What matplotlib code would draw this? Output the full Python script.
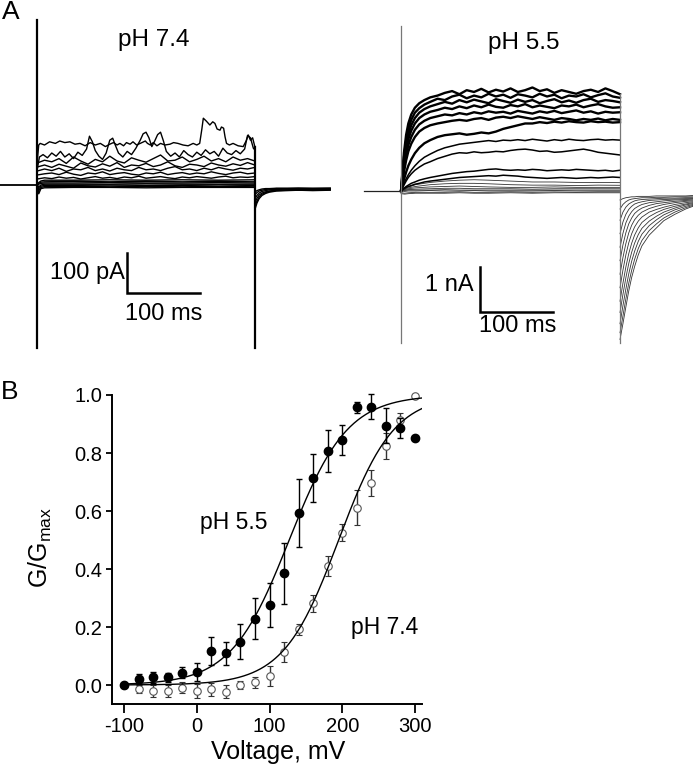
import numpy as np
import matplotlib
matplotlib.use("Agg")
import matplotlib.pyplot as plt

plt.rcParams["font.family"] = ["Liberation Sans", "DejaVu Sans"]
plt.rcParams["mathtext.fontset"] = "custom"
plt.rcParams["mathtext.rm"] = "Liberation Sans"
plt.rcParams["mathtext.it"] = "Liberation Sans:italic"
plt.rcParams["axes.unicode_minus"] = False

# ---------------- panel A, pH 7.4 (time in ms, current in pA) ----------------
p1_t = [0, 2, 4, 10, 17, 25, 31, 38, 45, 52, 59, 66, 73, 80, 87, 94, 100, 105, 110, 114,
        119, 123, 128, 132, 137, 142, 149, 152, 156, 160, 165, 170, 176, 183, 188, 194, 201,
        208, 215, 220, 224, 227, 229, 233, 238, 242, 245, 248, 252, 254, 257, 259, 261, 265,
        270, 277, 284, 288, 291, 294, 297, 300]
p1_i = [60, 100, 104, 100, 108, 104, 110, 106, 108, 102, 104, 98, 106, 100, 104, 96, 102, 106,
        100, 104, 98, 106, 102, 108, 100, 104, 110, 104, 100, 106, 98, 104, 100, 102, 106, 104,
        100, 98, 104, 100, 104, 140, 167, 160, 150, 158, 154, 140, 137, 145, 142, 120, 104, 100,
        104, 98, 96, 110, 125, 112, 118, 96]
p2_t = [0, 3, 8, 14, 20, 26, 32, 38, 44, 50, 56, 62, 68, 72, 76, 80, 85, 90, 95, 100, 104, 108,
        112, 118, 124, 130, 136, 142, 146, 150, 154, 158, 162, 166, 170, 174, 178, 184, 190, 196,
        202, 208, 214, 220, 226, 232, 238, 244, 250, 256, 262, 268, 274, 280, 286, 290, 294, 298, 300]
p2_i = [40, 70, 76, 68, 80, 72, 84, 70, 78, 66, 82, 74, 90, 122, 108, 86, 72, 64, 80, 112, 117, 98,
        80, 70, 84, 76, 92, 112, 128, 132, 118, 96, 110, 126, 132, 110, 84, 72, 80, 70, 86, 76, 70,
        82, 74, 88, 78, 84, 72, 92, 80, 76, 86, 78, 90, 124, 118, 92, 88]

t_grid74 = list(range(0, 301, 10))
mid74 = [
    [55, 62, 58, 66, 54, 70, 60, 52, 64, 58, 72, 60, 55, 68, 62, 57, 66, 75, 60, 62, 70, 58, 64, 72, 60, 66, 58, 70, 62, 66, 60],
    [45, 50, 44, 52, 47, 42, 55, 48, 45, 53, 47, 56, 44, 50, 48, 54, 46, 50, 58, 48, 44, 52, 50, 46, 55, 50, 47, 53, 49, 56, 50],
    [35, 40, 36, 42, 34, 40, 38, 44, 36, 40, 35, 42, 38, 36, 44, 38, 40, 36, 42, 46, 38, 40, 36, 42, 38, 44, 40, 37, 42, 40, 44],
    [25, 28, 30, 26, 32, 27, 24, 30, 28, 33, 26, 29, 31, 27, 25, 30, 28, 32, 26, 29, 31, 27, 30, 28, 33, 29, 26, 30, 32, 28, 30],
    [15, 18, 16, 20, 17, 19, 15, 18, 21, 17, 19, 16, 20, 18, 22, 17, 19, 21, 18, 16, 20, 18, 21, 19, 17, 20, 22, 18, 20, 19, 21],
]
t_band74 = [0, 2, 5, 10, 50, 100, 150, 200, 250, 300]
band74 = [
    [0, 6, 10, 12, 12, 13, 12, 13, 12, 13],
    [0, 4, 7, 8, 9, 8, 9, 8, 9, 8],
    [0, 2, 4, 5, 5, 6, 5, 5, 6, 5],
    [0, -5, 0, 2, 2, 2, 3, 2, 2, 2],
    [0, -10, -3, -1, -1, 0, -1, -1, 0, -1],
    [0, -15, -6, -4, -4, -3, -4, -3, -4, -3],
    [0, -22, -9, -7, -6, -6, -7, -6, -6, -6],
]
t_tail74 = [300, 303, 306, 310, 315, 320, 330, 345, 360, 380, 404]
tail74 = [
    [-62, -45, -34, -26, -21, -18, -15, -14, -13, -14, -13],
    [-55, -40, -30, -23, -19, -16, -14, -13, -13, -12, -12],
    [-45, -33, -25, -20, -17, -15, -13, -12, -12, -11, -11],
    [-35, -26, -20, -16, -14, -12, -11, -10, -11, -10, -10],
    [-25, -19, -15, -13, -11, -10, -9, -9, -8, -9, -8],
    [-18, -14, -12, -10, -9, -9, -8, -8, -8, -8, -8],
]

# ---------------- panel A, pH 5.5 (time in ms, current in nA) ----------------
t_grid55 = [0, 2, 4, 7, 10, 14, 19, 25, 32, 40] + list(range(50, 301, 10))
big55 = [
    [0, 0.45, 0.85, 1.25, 1.5, 1.7, 1.85, 1.95, 2.02, 2.08, 2.12, 2.18, 2.22, 2.15, 2.24, 2.2, 2.27, 2.19,
     2.25, 2.21, 2.28, 2.2, 2.24, 2.3, 2.22, 2.26, 2.18, 2.24, 2.2, 2.16, 2.22, 2.25, 2.2, 2.28, 2.22, 2.15],
    [0, 0.4, 0.75, 1.12, 1.38, 1.58, 1.74, 1.84, 1.92, 1.98, 2.05, 2.02, 2.1, 2.14, 2.06, 2.12, 2.08, 2.16,
     2.1, 2.14, 2.07, 2.15, 2.12, 2.08, 2.16, 2.1, 2.14, 2.06, 2.12, 2.1, 2.15, 2.08, 2.13, 2.17, 2.1, 2.07],
    [0, 0.35, 0.68, 1.02, 1.26, 1.46, 1.62, 1.74, 1.82, 1.88, 1.93, 1.98, 1.94, 2.02, 1.97, 2.03, 1.99, 1.95,
     2.04, 2.0, 1.96, 2.03, 1.98, 2.02, 1.95, 2.0, 2.04, 1.97, 2.01, 1.96, 2.02, 2.05, 1.98, 2.02, 2.0, 1.97],
    [0, 0.3, 0.6, 0.92, 1.15, 1.34, 1.5, 1.62, 1.7, 1.76, 1.8, 1.85, 1.82, 1.88, 1.84, 1.9, 1.86, 1.92,
     1.87, 1.85, 1.91, 1.88, 1.93, 1.86, 1.9, 1.87, 1.84, 1.9, 1.88, 1.92, 1.86, 1.9, 1.93, 1.88, 1.85, 1.86],
    [0, 0.25, 0.5, 0.8, 1.02, 1.2, 1.36, 1.48, 1.56, 1.62, 1.66, 1.7, 1.68, 1.73, 1.7, 1.75, 1.72, 1.77,
     1.74, 1.76, 1.72, 1.78, 1.75, 1.72, 1.77, 1.74, 1.78, 1.73, 1.76, 1.79, 1.74, 1.77, 1.72, 1.76, 1.74, 1.75],
    [0, 0.2, 0.42, 0.68, 0.88, 1.05, 1.2, 1.32, 1.4, 1.46, 1.5, 1.53, 1.56, 1.58, 1.56, 1.6, 1.62, 1.58,
     1.63, 1.65, 1.62, 1.66, 1.63, 1.6, 1.64, 1.61, 1.58, 1.62, 1.6, 1.57, 1.6, 1.58, 1.61, 1.57, 1.6, 1.58],
    [0, 0.12, 0.25, 0.42, 0.56, 0.7, 0.84, 0.96, 1.06, 1.13, 1.2, 1.24, 1.26, 1.28, 1.25, 1.27, 1.3, 1.28,
     1.32, 1.38, 1.42, 1.46, 1.5, 1.5, 1.53, 1.51, 1.54, 1.52, 1.55, 1.53, 1.52, 1.55, 1.53, 1.54, 1.52, 1.53],
]
mid55 = [
    [0, 0.08, 0.16, 0.27, 0.36, 0.46, 0.56, 0.66, 0.75, 0.82, 0.9, 0.96, 1.0, 1.04, 1.06, 1.08, 1.1, 1.12,
     1.1, 1.13, 1.12, 1.14, 1.12, 1.15, 1.13, 1.11, 1.14, 1.12, 1.15, 1.13, 1.12, 1.14, 1.15, 1.13, 1.14, 1.13],
    [0, 0.06, 0.13, 0.22, 0.3, 0.38, 0.46, 0.53, 0.6, 0.65, 0.72, 0.77, 0.82, 0.85, 0.84, 0.87, 0.85, 0.86,
     0.88, 0.87, 0.9, 0.92, 0.93, 0.91, 0.88, 0.89, 0.86, 0.87, 0.89, 0.91, 0.93, 0.9, 0.86, 0.84, 0.82, 0.8],
    [0, 0.03, 0.06, 0.1, 0.13, 0.17, 0.2, 0.24, 0.27, 0.3, 0.33, 0.36, 0.39, 0.41, 0.43, 0.44, 0.46, 0.48,
     0.49, 0.47, 0.46, 0.47, 0.46, 0.48, 0.47, 0.45, 0.46, 0.47, 0.46, 0.48, 0.47, 0.46, 0.45, 0.46, 0.44, 0.46],
    [0, 0.03, 0.05, 0.08, 0.1, 0.12, 0.15, 0.17, 0.2, 0.22, 0.24, 0.26, 0.28, 0.3, 0.31, 0.32, 0.33, 0.34,
     0.33, 0.35, 0.34, 0.33, 0.31, 0.3, 0.29, 0.28, 0.29, 0.3, 0.29, 0.28, 0.29, 0.3, 0.29, 0.3, 0.31, 0.3],
]
t_small55 = [0, 5, 10, 20, 40, 60, 80, 100, 120, 150, 180, 210, 240, 270, 300]
small55 = [
    [0, 0.05, 0.09, 0.14, 0.19, 0.22, 0.24, 0.25, 0.24, 0.22, 0.2, 0.2, 0.19, 0.19, 0.185],
    [0, 0.04, 0.07, 0.1, 0.14, 0.16, 0.17, 0.17, 0.16, 0.14, 0.13, 0.13, 0.12, 0.13, 0.126],
    [0, 0.03, 0.05, 0.07, 0.09, 0.1, 0.11, 0.1, 0.09, 0.08, 0.08, 0.09, 0.08, 0.08, 0.08],
    [0, 0.02, 0.03, 0.04, 0.05, 0.06, 0.06, 0.05, 0.05, 0.05, 0.04, 0.05, 0.05, 0.05, 0.05],
    [0, 0.01, 0.02, 0.02, 0.02, 0.03, 0.02, 0.02, 0.02, 0.02, 0.02, 0.02, 0.02, 0.02, 0.02],
    [0, -0.01, 0.0, 0.0, 0.01, 0.0, 0.0, 0.01, 0.0, 0.0, 0.0, 0.01, 0.0, 0.0, 0.0],
    [-0.04, -0.05, -0.04, -0.03, -0.03, -0.03, -0.02, -0.03, -0.03, -0.02, -0.03, -0.02, -0.03, -0.02, -0.02],
    [-0.06, -0.07, -0.06, -0.05, -0.05, -0.05, -0.04, -0.05, -0.05, -0.04, -0.05, -0.04, -0.04, -0.04, -0.04],
]
t_tail55 = [300, 304, 308, 312, 316, 320, 325, 330, 340, 350, 360, 375, 390, 400]
tail55 = [
    [-3.30, -2.95, -2.58, -2.22, -1.92, -1.68, -1.42, -1.22, -0.98, -0.82, -0.66, -0.52, -0.40, -0.34],
    [-3.15, -2.78, -2.40, -2.05, -1.76, -1.52, -1.28, -1.10, -0.88, -0.73, -0.60, -0.47, -0.37, -0.32],
    [-2.95, -2.55, -2.18, -1.84, -1.56, -1.34, -1.12, -0.96, -0.77, -0.64, -0.53, -0.42, -0.34, -0.30],
    [-2.70, -2.30, -1.93, -1.61, -1.36, -1.16, -0.97, -0.83, -0.67, -0.56, -0.47, -0.38, -0.31, -0.28],
    [-2.45, -2.05, -1.69, -1.39, -1.16, -0.98, -0.82, -0.70, -0.57, -0.48, -0.41, -0.34, -0.29, -0.26],
    [-2.15, -1.76, -1.42, -1.15, -0.95, -0.80, -0.67, -0.58, -0.47, -0.41, -0.36, -0.30, -0.26, -0.24],
    [-1.85, -1.48, -1.17, -0.93, -0.76, -0.64, -0.54, -0.47, -0.39, -0.34, -0.30, -0.26, -0.23, -0.22],
    [-1.55, -1.20, -0.93, -0.73, -0.60, -0.50, -0.43, -0.38, -0.32, -0.28, -0.26, -0.23, -0.21, -0.20],
    [-1.25, -0.94, -0.71, -0.56, -0.46, -0.39, -0.34, -0.30, -0.26, -0.24, -0.22, -0.20, -0.19, -0.18],
    [-0.95, -0.69, -0.52, -0.41, -0.34, -0.29, -0.26, -0.24, -0.21, -0.20, -0.19, -0.18, -0.17, -0.17],
    [-0.65, -0.47, -0.36, -0.29, -0.25, -0.22, -0.20, -0.19, -0.18, -0.17, -0.16, -0.16, -0.15, -0.15],
    [-0.40, -0.30, -0.24, -0.20, -0.18, -0.17, -0.16, -0.15, -0.15, -0.14, -0.14, -0.13, -0.13, -0.13],
    [-0.20, -0.17, -0.15, -0.14, -0.13, -0.13, -0.12, -0.12, -0.12, -0.11, -0.11, -0.11, -0.11, -0.10],
]

# ---------------- panel B, G/Gmax ----------------
voltage = [-100, -80, -60, -40, -20, 0, 20, 40, 60, 80, 100, 120, 140, 160, 180, 200, 220, 240, 260, 280, 300]
g_ph55 = [0.0, 0.02, 0.026, 0.026, 0.043, 0.046, 0.118, 0.109, 0.149, 0.229, 0.276, 0.385, 0.594,
          0.714, 0.807, 0.845, 0.957, 0.96, 0.894, 0.885, 0.852]
err_ph55 = [0.0, 0.018, 0.02, 0.015, 0.018, 0.031, 0.049, 0.04, 0.06, 0.07, 0.077, 0.105, 0.118,
            0.083, 0.071, 0.052, 0.018, 0.043, 0.06, 0.034, 0.0]
g_ph74 = [0.0, -0.014, -0.021, -0.02, -0.009, -0.021, -0.015, -0.023, 0.0, 0.009, 0.031, 0.115,
          0.192, 0.282, 0.41, 0.525, 0.611, 0.698, 0.824, 0.914, 0.997]
err_ph74 = [0.0, 0.015, 0.02, 0.02, 0.02, 0.025, 0.022, 0.022, 0.015, 0.02, 0.035, 0.035, 0.02,
            0.03, 0.035, 0.03, 0.06, 0.045, 0.045, 0.025, 0.0]
# Boltzmann fit parameters (V1/2, slope) in mV
fit_ph55 = (127, 40)
fit_ph74 = (195, 38)

W, H = 693, 765
fig = plt.figure(figsize=(W / 100, H / 100), dpi=100)


def px_axes(x0, y0, w, h):
    return fig.add_axes([x0 / W, 1 - (y0 + h) / H, w / W, h / H])


# ---- A left: pH 7.4 ----
axl = px_axes(0, 0, 340, 360)
axl.set_xlim(-51.4, 417.5)
axl.set_ylim(-437.5, 462.5)
axl.axis("off")
kw74 = dict(color="black", lw=1.0)
for row in band74:
    axl.plot(t_band74, row, **kw74)
for row in mid74:
    axl.plot(t_grid74, row, **kw74)
axl.plot(p2_t, p2_i, **kw74)
axl.plot(p1_t, p1_i, **kw74)
for row in tail74:
    axl.plot(t_tail74, row, **kw74)
axl.plot([-52, 0], [0, 0], color="black", lw=1.3)
axl.plot([0, 0], [412, -407], color="black", lw=1.6)
axl.plot([300, 300], [96, -407], color="black", lw=1.6)
# scale bar: 100 pA / 100 ms
axl.plot([124, 124, 224], [-170, -270, -270], color="black", lw=1.8, solid_joinstyle="miter")
axl.text(121, -220, "100 pA", ha="right", va="center", fontsize=17)
axl.text(121, -322, "100 ms", ha="left", va="center", fontsize=17)
axl.text(111, 362, "pH 7.4", ha="left", va="center", fontsize=17.5)

# ---- A right: pH 5.5 ----
axr = px_axes(340, 0, 353, 360)
axr.set_xlim(-83.6, 400)
axr.set_ylim(-3.756, 4.244)
axr.axis("off")
for row in small55:
    axr.plot(t_small55, row, color="#333333", lw=0.6)
for row in mid55:
    axr.plot(t_grid55, row, color="black", lw=1.1)
for row in big55:
    axr.plot(t_grid55, row, color="black", lw=1.7)
for row in tail55:
    axr.plot(t_tail55, row, color="#333333", lw=0.6)
axr.plot([-51, 0], [0, 0], color="#222222", lw=0.9)
axr.plot([0, 0], [3.67, -3.38], color="#777777", lw=0.9)
axr.plot([300, 300], [2.16, -3.38], color="#777777", lw=0.9)
axr.plot([108, 108, 208], [-1.69, -2.69, -2.69], color="black", lw=1.8, solid_joinstyle="miter")
axr.text(100, -2.09, "1 nA", ha="right", va="center", fontsize=17)
axr.text(107, -3.0, "100 ms", ha="left", va="center", fontsize=17)
axr.text(119, 3.29, "pH 5.5", ha="left", va="center", fontsize=17.5)

fig.text(2 / W, 1 - 12 / H, "A", ha="left", va="center", fontsize=19)
fig.text(1 / W, 1 - 392 / H, "B", ha="left", va="center", fontsize=19)

# ---- B: conductance-voltage ----
axb = px_axes(111.7, 395, 310, 309)
axb.set_xlim(-117, 309.2)
axb.set_ylim(-0.0655, 1.0)
vfit = np.linspace(-100, 309.2, 300)
axb.errorbar(voltage, g_ph74, yerr=err_ph74, fmt="o", ms=5.4, mfc="white", mec="#555555",
             mew=0.8, ecolor="#333333", elinewidth=1.0, capsize=2.4, capthick=1.0, zorder=2,
             clip_on=False)
for v_half, slope in (fit_ph55, fit_ph74):
    axb.plot(vfit, 1 / (1 + np.exp((v_half - vfit) / slope)), color="black", lw=1.0, zorder=3)
axb.errorbar(voltage, g_ph55, yerr=err_ph55, fmt="o", ms=6.0, mfc="black", mec="black",
             ecolor="black", elinewidth=1.0, capsize=2.4, capthick=1.0, zorder=4, clip_on=False)
axb.text(4, 0.56, "pH 5.5", ha="left", va="center", fontsize=16.5)
axb.text(212, 0.20, "pH 7.4", ha="left", va="center", fontsize=16.5)

axb.set_xticks([-100, 0, 100, 200, 300])
axb.set_yticks([0.0, 0.2, 0.4, 0.6, 0.8, 1.0])
axb.set_yticklabels(["0.0", "0.2", "0.4", "0.6", "0.8", "1.0"])
axb.tick_params(axis="x", direction="out", length=6.5, width=1.3, labelsize=14.5, pad=2.5)
axb.tick_params(axis="y", direction="out", length=4, width=1.3, labelsize=14.5, pad=3)
for side in ("top", "right"):
    axb.spines[side].set_visible(False)
for side in ("left", "bottom"):
    axb.spines[side].set_linewidth(1.4)
fig.text(278 / W, 1 - 752 / H, "Voltage, mV", ha="center", va="center", fontsize=18)
fig.text(40 / W, 1 - 548 / H, "G/G$_{\\mathrm{max}}$", ha="center", va="center",
         rotation=90, fontsize=18)

fig.savefig("out.png", dpi=100)
